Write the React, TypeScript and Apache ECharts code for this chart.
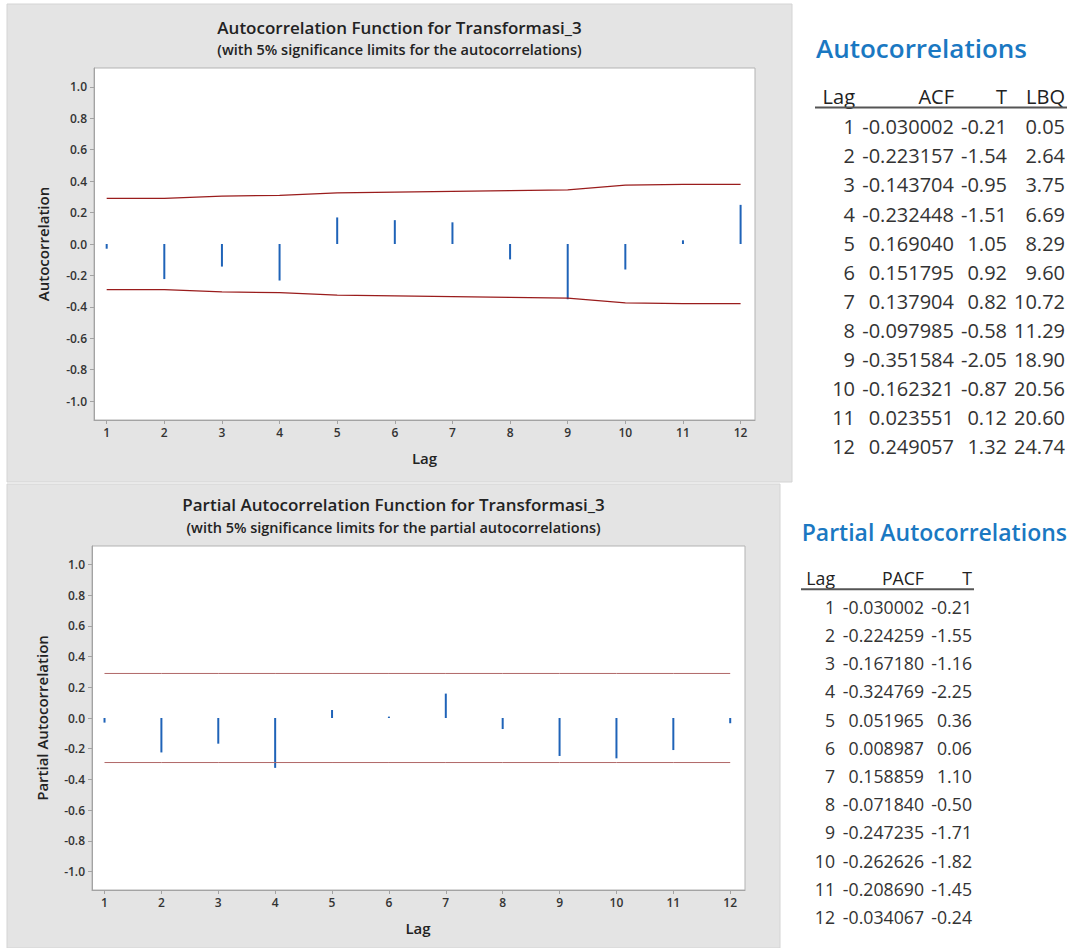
import React, { useEffect, useRef } from "react";
import * as echarts from "echarts";

const lags = [1, 2, 3, 4, 5, 6, 7, 8, 9, 10, 11, 12];
const acf = [-0.030002, -0.223157, -0.143704, -0.232448, 0.16904, 0.151795, 0.137904, -0.097985, -0.351584, -0.162321, 0.023551, 0.249057];
const acfT = [-0.21, -1.54, -0.95, -1.51, 1.05, 0.92, 0.82, -0.58, -2.05, -0.87, 0.12, 1.32];
const acfLBQ = [0.05, 2.64, 3.75, 6.69, 8.29, 9.6, 10.72, 11.29, 18.9, 20.56, 20.6, 24.74];
const acfLimit = [0.29, 0.29, 0.305, 0.31, 0.325, 0.33, 0.335, 0.34, 0.345, 0.375, 0.38, 0.38];
const pacf = [-0.030002, -0.224259, -0.16718, -0.324769, 0.051965, 0.008987, 0.158859, -0.07184, -0.247235, -0.262626, -0.20869, -0.034067];
const pacfT = [-0.21, -1.55, -1.16, -2.25, 0.36, 0.06, 1.1, -0.5, -1.71, -1.82, -1.45, -0.24];
const pacfLimit = [0.29, 0.29, 0.29, 0.29, 0.29, 0.29, 0.29, 0.29, 0.29, 0.29, 0.29, 0.29];
const yTicks = [-1.0, -0.8, -0.6, -0.4, -0.2, 0.0, 0.2, 0.4, 0.6, 0.8, 1.0];

const FONT = '"Open Sans", "Noto Sans", sans-serif';
const AXIS = "#a3a3a3";
const BAR = "#1f63b8";

function xAxis(gridIndex: number, min: number, max: number) {
  return {
    type: "value",
    gridIndex,
    min,
    max,
    axisLine: { show: true, onZero: false, lineStyle: { color: AXIS } },
    axisTick: { show: true, customValues: lags, length: 4, lineStyle: { color: AXIS } },
    axisLabel: {
      show: true,
      customValues: lags,
      color: "#333",
      fontSize: 12,
      fontFamily: FONT,
      fontWeight: 600,
      margin: 6,
    },
    splitLine: { show: false },
  };
}

function yAxis(gridIndex: number) {
  return {
    type: "value",
    gridIndex,
    min: -1.12,
    max: 1.12,
    axisLine: { show: true, onZero: false, lineStyle: { color: AXIS } },
    axisTick: { show: true, customValues: yTicks, length: 4, lineStyle: { color: AXIS } },
    axisLabel: {
      show: true,
      customValues: yTicks,
      formatter: (v: number) => v.toFixed(1),
      color: "#333",
      fontSize: 12,
      fontFamily: FONT,
      fontWeight: 600,
      margin: 7,
    },
    splitLine: { show: false },
  };
}

function txt(x: number, y: number, text: string, font: number, opts: any = {}) {
  return {
    type: "text",
    x,
    y,
    rotation: opts.rotation || 0,
    z: 10,
    style: {
      text,
      fontSize: font,
      lineHeight: opts.lineHeight || Math.round(font * 1.2),
      fontFamily: FONT,
      fontWeight: opts.weight || "normal",
      fill: opts.color || "#222",
      textAlign: opts.align || "center",
      textVerticalAlign: "middle",
    },
  };
}

function table(
  title: string,
  titleX: number,
  titleY: number,
  titleSize: number,
  headers: string[],
  colRight: number[],
  headerY: number,
  lineX0: number,
  lineX1: number,
  lineY: number,
  rowY0: number,
  rowStep: number,
  font: number,
  columns: string[][]
) {
  const els: any[] = [];
  els.push(txt(titleX, titleY, title, titleSize, { align: "left", weight: 600, color: "#1a78c2" }));
  headers.forEach((h, i) => {
    els.push(txt(colRight[i], headerY, h, font, { align: "right", color: "#222" }));
  });
  els.push({
    type: "line",
    z: 10,
    shape: { x1: lineX0, y1: lineY, x2: lineX1, y2: lineY },
    style: { stroke: "#555", lineWidth: 2 },
  });
  columns.forEach((col, c) => {
    col.forEach((s, r) => {
      els.push(txt(colRight[c], rowY0 + r * rowStep, s, font, { align: "right", color: "#333" }));
    });
  });
  return els;
}

export default function App() {
  const ref = useRef<HTMLDivElement>(null);
  useEffect(() => {
    if (!ref.current) return;
    const chart = echarts.init(ref.current, null, { renderer: "svg" });
    const graphic: any[] = [
      { type: "rect", z: -10, shape: { x: 7, y: 4, width: 785, height: 478 }, style: { fill: "#e4e4e4", stroke: "#d4d4d4", lineWidth: 1 } },
      { type: "rect", z: -10, shape: { x: 7, y: 484, width: 773, height: 464 }, style: { fill: "#e4e4e4", stroke: "#d4d4d4", lineWidth: 1 } },
      txt(399.5, 27, "Autocorrelation Function for Transformasi_3", 17, { weight: 600, lineHeight: 17 }),
      txt(399.5, 49, "(with 5% significance limits for the autocorrelations)", 14.5, { weight: 600, lineHeight: 15 }),
      txt(424.5, 458, "Lag", 15, { weight: 600 }),
      txt(43, 244, "Autocorrelation", 15, { weight: 600, rotation: Math.PI / 2 }),
      txt(393.5, 504.5, "Partial Autocorrelation Function for Transformasi_3", 17, { weight: 600, lineHeight: 17 }),
      txt(393.5, 527, "(with 5% significance limits for the partial autocorrelations)", 14.5, { weight: 600, lineHeight: 15 }),
      txt(418, 928, "Lag", 15, { weight: 600 }),
      txt(42, 718, "Partial Autocorrelation", 15, { weight: 600, rotation: Math.PI / 2 }),
      ...table(
        "Autocorrelations",
        816,
        48,
        26,
        ["Lag", "ACF", "T", "LBQ"],
        [855, 954, 1007, 1065],
        96,
        815,
        1067,
        107.5,
        126.7,
        29.1,
        20,
        [
          lags.map((v) => String(v)),
          acf.map((v) => v.toFixed(6)),
          acfT.map((v) => v.toFixed(2)),
          acfLBQ.map((v) => v.toFixed(2)),
        ]
      ),
      ...table(
        "Partial Autocorrelations",
        801.7,
        531.7,
        23,
        ["Lag", "PACF", "T"],
        [835, 924, 972],
        578.3,
        801,
        974,
        589.3,
        606.7,
        28.2,
        17.7,
        [lags.map((v) => String(v)), pacf.map((v) => v.toFixed(6)), pacfT.map((v) => v.toFixed(2))]
      ),
    ];

    chart.setOption({
      animation: false,
      backgroundColor: "#ffffff",
      textStyle: { fontFamily: FONT },
      grid: [
        { left: 94, top: 68, width: 661, height: 352, show: true, backgroundColor: "#ffffff", borderColor: "#b3b3b3", borderWidth: 1 },
        { left: 92, top: 546, width: 653, height: 344, show: true, backgroundColor: "#ffffff", borderColor: "#b3b3b3", borderWidth: 1 },
      ],
      xAxis: [xAxis(0, 0.78, 12.25), xAxis(1, 0.78, 12.26)],
      yAxis: [yAxis(0), yAxis(1)],
      graphic,
      series: [
        {
          type: "bar",
          xAxisIndex: 0,
          yAxisIndex: 0,
          barWidth: 2,
          itemStyle: { color: BAR },
          data: lags.map((l, i) => [l, acf[i]]),
        },
        {
          type: "line",
          xAxisIndex: 0,
          yAxisIndex: 0,
          symbol: "none",
          lineStyle: { color: "#9a1c1c", width: 1.2 },
          data: lags.map((l, i) => [l, acfLimit[i]]),
        },
        {
          type: "line",
          xAxisIndex: 0,
          yAxisIndex: 0,
          symbol: "none",
          lineStyle: { color: "#9a1c1c", width: 1.2 },
          data: lags.map((l, i) => [l, -acfLimit[i]]),
        },
        {
          type: "bar",
          xAxisIndex: 1,
          yAxisIndex: 1,
          barWidth: 2,
          itemStyle: { color: BAR },
          data: lags.map((l, i) => [l, pacf[i]]),
        },
        {
          type: "line",
          xAxisIndex: 1,
          yAxisIndex: 1,
          symbol: "none",
          lineStyle: { color: "#b06868", width: 1 },
          data: lags.map((l, i) => [l, pacfLimit[i]]),
        },
        {
          type: "line",
          xAxisIndex: 1,
          yAxisIndex: 1,
          symbol: "none",
          lineStyle: { color: "#b06868", width: 1 },
          data: lags.map((l, i) => [l, -pacfLimit[i]]),
        },
      ],
    });
    return () => chart.dispose();
  }, []);
  return <div ref={ref} style={{ position: "absolute", left: 0, top: 0, width: 1073, height: 948 }} />;
}
